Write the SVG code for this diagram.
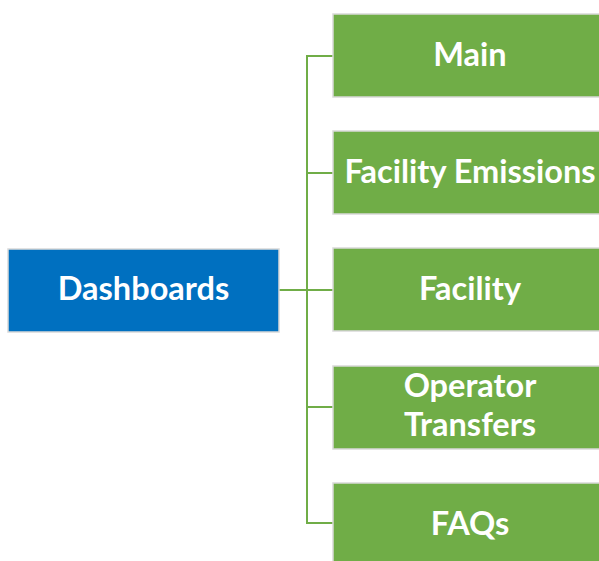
<svg xmlns="http://www.w3.org/2000/svg" width="599" height="561" viewBox="0 0 599 561">
<style>
.root{fill:#0070C0;stroke:#D9D9D9;stroke-width:1.5}
.leaf{fill:#70AD47;stroke:#D9D9D9;stroke-width:1.5}
.lbl{font-family:Lato,"Open Sans","Liberation Sans",sans-serif;font-weight:bold;font-size:32.5px;fill:#FFFFFF;text-anchor:middle}
.conn{fill:none;stroke:#70AD47;stroke-width:2}
</style>
<rect width="599" height="561" fill="#FFFFFF"/>
<g id="connectors">
<path class="conn" d="M279 290 H307"/>
<path class="conn" d="M333 56 H307 V523 H333"/>
<path class="conn" d="M307 173 H333"/>
<path class="conn" d="M307 290 H333"/>
<path class="conn" d="M307 407 H333"/>
</g>
<g id="dashboards">
<rect class="root" x="8" y="249" width="271" height="83"/>
<text class="lbl" x="143.5" y="300">Dashboards</text>
</g>
<g id="main">
<rect class="leaf" x="333" y="14" width="275" height="83"/>
<text class="lbl" x="470" y="66">Main</text>
</g>
<g id="facility-emissions">
<rect class="leaf" x="333" y="131" width="275" height="83"/>
<text class="lbl" x="470" y="183">Facility Emissions</text>
</g>
<g id="facility">
<rect class="leaf" x="333" y="248" width="275" height="83"/>
<text class="lbl" x="470" y="300">Facility</text>
</g>
<g id="operator-transfers">
<rect class="leaf" x="333" y="366" width="275" height="83"/>
<text class="lbl" x="470" y="397">Operator</text>
<text class="lbl" x="470" y="436">Transfers</text>
</g>
<g id="faqs">
<rect class="leaf" x="333" y="483" width="275" height="83"/>
<text class="lbl" x="470" y="535">FAQs</text>
</g>
</svg>
